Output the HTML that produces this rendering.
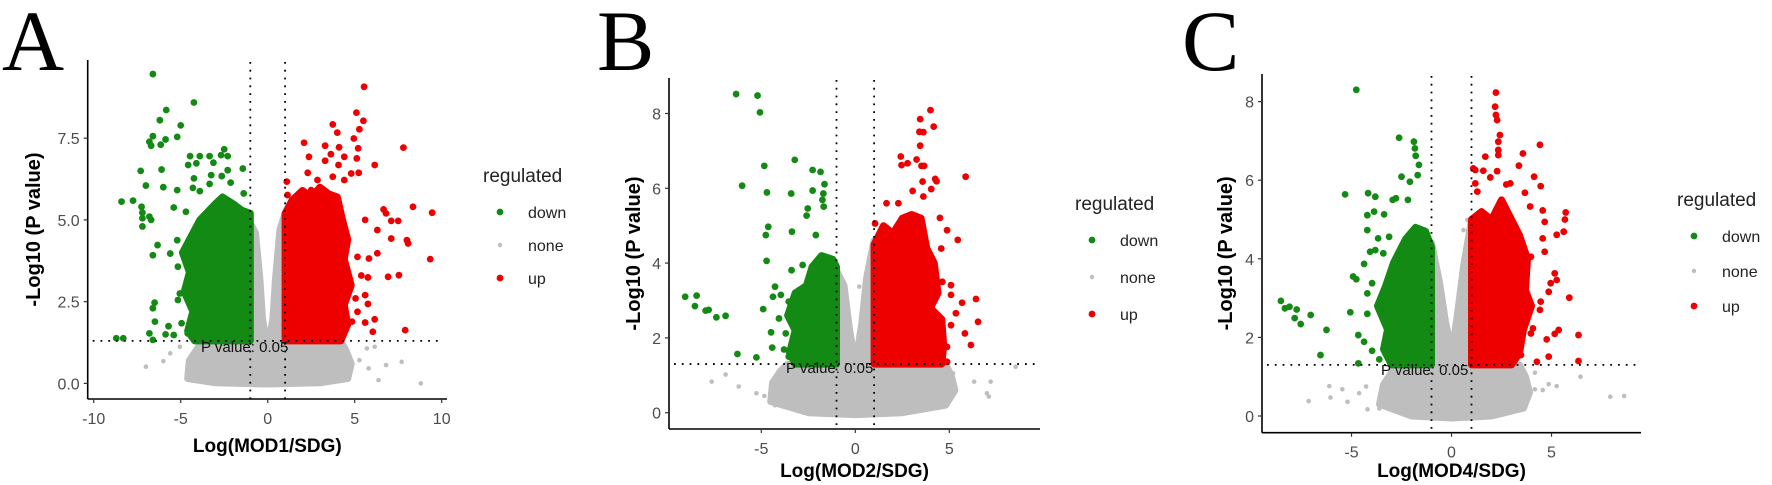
<!DOCTYPE html>
<html><head><meta charset="utf-8"><style>
body{margin:0;background:#fff}
svg{display:block}
text{font-family:"Liberation Sans",sans-serif}
text.serif{font-family:"Liberation Serif",serif}
</style></head><body>
<svg id="fig" width="1772" height="485" viewBox="0 0 1772 485" xmlns="http://www.w3.org/2000/svg"></svg>
<script>
// ---------- DATA (log fold change, -log10 p) ----------
const aGreen=[[-6.6,9.46],[-4.24,8.59],[-5.83,8.36],[-6.2,8.05],[-5.0,7.89],[-6.6,7.56],[-5.2,7.54],[-5.87,7.46],[-6.8,7.39],[-6.7,7.27],[-6.15,7.3],[-2.5,7.16],[-4.46,6.95],[-3.9,6.95],[-3.34,6.95],[-2.68,6.98],[-2.3,6.95],[-4.57,6.68],[-4.1,6.73],[-3.12,6.75],[-1.43,6.57],[-6.1,6.54],[-7.3,6.5],[-4.24,6.27],[-3.25,6.37],[-2.64,6.34],[-2.3,6.52],[-3.34,6.1],[-2.13,6.14],[-7.0,6.05],[-6.0,6.0],[-4.3,5.98],[-3.9,5.88],[-5.2,5.91],[-1.38,5.81],[-8.4,5.56],[-7.74,5.59],[-7.25,5.4],[-5.4,5.38],[-7.2,5.22],[-4.7,5.25],[-7.2,5.05],[-6.8,5.1],[-7.2,4.8],[-6.7,5.0],[-6.33,4.23],[-6.6,3.92],[-5.2,4.38],[-5.6,3.97],[-5.16,3.57],[-5.05,2.75],[-5.16,2.55],[-6.5,2.47],[-6.6,2.3],[-6.48,1.89],[-5.7,1.75],[-6.8,1.53],[-5.87,1.5],[-8.7,1.38],[-8.3,1.38],[-6.6,1.33],[-5.4,1.48],[-4.95,1.84],[-4.6,1.53]];
const aRed=[[5.54,9.07],[5.1,8.28],[5.5,8.03],[3.74,7.92],[4.0,7.67],[5.27,7.77],[4.95,7.49],[7.8,7.21],[2.09,7.36],[3.3,7.27],[4.1,7.22],[5.2,7.19],[2.37,6.93],[3.63,7.01],[4.4,6.93],[5.12,6.88],[6.15,6.68],[3.3,6.81],[4.07,6.68],[2.3,6.44],[4.8,6.42],[5.23,6.44],[2.86,6.22],[3.74,6.32],[4.4,6.22],[1.1,6.17],[1.14,5.76],[2.5,5.91],[8.35,5.4],[9.45,5.22],[6.66,5.32],[6.8,5.2],[7.1,4.97],[7.5,4.97],[5.6,5.0],[6.3,4.69],[7.1,4.43],[8.0,4.38],[8.07,4.28],[6.3,3.98],[9.34,3.8],[5.82,3.82],[5.16,3.87],[6.92,3.26],[7.54,3.31],[5.76,3.24],[5.76,2.43],[5.05,2.6],[6.15,1.96],[5.6,1.86],[6.04,1.58],[7.9,1.63],[4.84,1.89],[5.16,2.19],[5.6,2.7],[5.38,3.3]];
const aNone=[[-7.0,0.51],[-6.0,0.68],[-4.6,0.25],[-3.96,0.12],[8.8,0.0],[6.37,0.1],[7.7,0.66],[6.8,0.56],[5.8,0.46],[5.27,0.71],[5.7,1.07],[6.15,1.12],[4.5,1.02],[-5.05,1.12],[-5.6,0.92]];
const aNoneArea=[[-4.6,0.15],[-4.5,0.7],[-4.0,1.1],[-3.8,1.3],[-1,1.3],[-1,4.9],[-0.7,4.6],[-0.45,3.2],[-0.3,2.0],[-0.15,1.5],[0.15,1.5],[0.3,2.0],[0.45,3.2],[0.7,4.7],[1,5.2],[1,1.3],[4.2,1.3],[4.5,1.0],[4.8,0.6],[4.6,0.15],[3,0.02],[0,-0.02],[-3,0.02]];
const aGreenArea=[[-1,1.3],[-4.2,1.3],[-4.6,1.6],[-4.3,2.2],[-4.8,2.8],[-4.5,3.4],[-4.9,4.0],[-4.4,4.5],[-3.9,5.0],[-3.0,5.5],[-2.6,5.7],[-2.0,5.5],[-1.5,5.3],[-1,5.2]];
const aRedArea=[[1,1.3],[1,5.2],[1.4,5.6],[2.0,5.9],[2.5,5.7],[3.0,6.0],[3.5,5.8],[4.0,5.7],[4.3,5.0],[4.6,4.4],[4.4,3.8],[4.8,3.0],[4.4,2.4],[4.6,1.8],[4.2,1.3]];

const bGreen=[[-6.34,8.52],[-5.2,8.48],[-5.07,8.03],[-3.22,6.76],[-4.84,6.6],[-6.02,6.07],[-4.7,5.89],[-3.41,5.86],[-2.27,6.49],[-1.85,6.44],[-2.27,5.94],[-1.64,6.11],[-1.7,5.86],[-2.53,5.46],[-2.59,5.27],[-1.75,5.69],[-1.68,5.51],[-4.63,4.97],[-4.76,4.75],[-3.37,4.84],[-2.1,4.75],[-4.72,4.06],[-3.39,3.81],[-2.8,3.95],[-9.05,3.1],[-8.44,3.13],[-8.53,2.85],[-7.96,2.73],[-7.8,2.75],[-7.39,2.55],[-6.9,2.59],[-4.9,2.77],[-4.48,2.15],[-4.42,1.74],[-6.27,1.57],[-5.26,1.48],[-4.27,3.37],[-3.96,3.15],[-4.38,3.1],[-3.54,2.97],[-4.06,2.52],[-3.7,2.12],[-3.79,1.69],[-3.12,1.94],[-3.54,1.5],[-2.86,3.19]];
const bRed=[[4.0,8.09],[3.45,7.85],[4.17,7.65],[3.41,7.51],[3.62,7.5],[3.45,7.14],[2.42,6.85],[3.26,6.77],[2.46,6.62],[2.78,6.67],[3.52,6.6],[3.66,6.6],[5.87,6.31],[4.25,6.25],[4.32,6.19],[3.58,6.18],[4.04,5.98],[3.05,5.93],[1.66,5.6],[2.29,5.6],[3.62,5.78],[4.5,5.21],[4.88,4.88],[5.45,4.62],[1.05,5.06],[4.57,4.39],[4.63,3.5],[5.09,3.41],[5.09,3.15],[5.68,2.94],[6.42,3.04],[6.53,2.43],[5.83,2.12],[6.15,1.81],[4.88,1.36],[5.35,2.66],[5.09,2.34],[4.88,1.76],[4.67,1.59]];
const bNone=[[-7.64,0.83],[-6.9,1.02],[-6.2,0.7],[-5.26,0.52],[-4.84,0.45],[-4.27,0.2],[8.53,1.23],[6.32,0.83],[7.2,0.83],[7.1,0.43],[7.0,0.52],[5.2,1.05],[0.21,3.37],[-0.76,3.37]];
const bNoneArea=[[-4.5,0.3],[-4.4,0.8],[-4.0,1.1],[-3.6,1.3],[-1,1.3],[-1,3.8],[-0.6,3.4],[-0.3,2.2],[-0.1,1.6],[0.1,1.6],[0.35,2.4],[0.6,3.6],[1,4.6],[1,1.3],[4.8,1.3],[5.1,1.0],[5.3,0.6],[4.8,0.2],[2.5,0.0],[0,-0.05],[-2.5,0.0]];
const bGreenArea=[[-1,1.3],[-3.2,1.3],[-3.5,1.6],[-3.2,2.2],[-3.6,2.6],[-3.2,3.2],[-2.6,3.4],[-2.3,3.9],[-1.8,4.2],[-1.2,4.1],[-1,3.9]];
const bRedArea=[[1,1.3],[1,4.5],[1.5,5.0],[2.0,4.8],[2.5,5.2],[3.0,5.3],[3.5,5.2],[3.8,4.4],[4.2,4.0],[4.4,3.2],[4.0,2.8],[4.6,2.5],[4.7,1.8],[4.6,1.3]];

const cGreen=[[-4.76,8.3],[-2.62,7.08],[-1.88,6.98],[-1.83,6.81],[-1.79,6.62],[-1.63,6.39],[-2.5,6.09],[-2.08,5.96],[-1.69,6.13],[-5.32,5.64],[-4.17,5.67],[-3.81,5.58],[-4.21,5.11],[-3.87,5.2],[-3.37,5.13],[-2.94,5.5],[-2.78,5.54],[-2.18,5.5],[-4.21,4.73],[-3.67,4.52],[-3.12,4.56],[-3.41,4.14],[-4.07,4.18],[-3.81,4.22],[-4.37,3.87],[-4.92,3.55],[-4.76,3.48],[-8.53,2.93],[-8.33,2.74],[-8.1,2.78],[-7.74,2.71],[-7.84,2.49],[-7.54,2.34],[-7.04,2.57],[-6.25,2.19],[-5.06,2.64],[-4.21,2.6],[-4.66,2.06],[-4.37,1.89],[-6.55,1.55],[-3.97,1.66],[-4.66,1.34],[-3.61,1.44],[-4.21,3.12],[-3.97,3.38]];
const cRed=[[2.22,8.23],[2.18,7.87],[2.22,7.66],[2.28,7.53],[2.42,7.15],[2.34,6.98],[4.42,6.9],[2.34,6.77],[3.57,6.68],[1.69,6.6],[2.34,6.64],[3.37,6.37],[1.09,6.3],[1.19,6.26],[1.59,6.24],[2.28,6.23],[1.94,6.07],[4.13,6.09],[2.74,5.89],[2.94,5.92],[4.46,5.85],[3.67,5.68],[1.19,5.92],[1.29,5.71],[5.71,5.18],[5.67,5.0],[5.61,4.69],[5.26,4.61],[4.56,5.23],[3.93,5.33],[4.66,4.94],[4.56,4.52],[4.66,4.18],[3.97,4.05],[5.16,3.63],[5.26,3.46],[4.96,3.38],[5.89,3.01],[4.46,2.91],[4.86,3.16],[4.42,2.7],[6.35,2.06],[5.36,2.19],[5.16,2.09],[4.76,1.95],[4.07,2.23],[3.97,2.1],[4.86,1.51],[6.35,1.4],[4.27,1.38],[3.47,1.55]];
const cNone=[[-7.14,0.38],[-6.11,0.76],[-6.05,0.47],[-5.46,0.68],[-5.2,0.36],[-4.62,0.58],[-4.2,0.17],[-3.61,0.19],[-4.27,0.75],[6.45,1.0],[7.94,0.49],[8.63,0.51],[4.17,0.68],[4.56,0.66],[4.86,0.81],[5.26,0.76],[4.17,1.1],[3.57,0.2],[0.6,4.73],[0.79,4.99]];
const cNoneArea=[[-3.6,0.3],[-3.4,0.8],[-3.0,1.1],[-2.8,1.3],[-1,1.3],[-1,4.4],[-0.6,3.4],[-0.3,2.4],[-0.1,1.9],[0.1,1.9],[0.3,2.6],[0.6,3.8],[1,5.0],[1,1.3],[3.4,1.3],[3.7,1.0],[3.9,0.6],[3.6,0.2],[2,0.0],[0,-0.05],[-2,0.0]];
const cGreenArea=[[-1,1.3],[-3.0,1.3],[-3.4,1.7],[-3.2,2.2],[-3.7,2.8],[-3.3,3.3],[-2.9,3.9],[-2.3,4.5],[-1.8,4.8],[-1.3,4.7],[-1,4.3]];
const cRedArea=[[1,1.3],[1,5.0],[1.5,5.2],[2.0,5.0],[2.5,5.5],[3.0,5.0],[3.4,4.6],[3.8,4.0],[3.7,3.2],[4.0,2.8],[3.6,2.2],[3.4,1.6],[3.0,1.3]];

const aXTicks=[-10,-5,0,5,10], aXLabels=["-10","-5","0","5","10"];
const aYTicks=[0,2.5,5,7.5], aYLabels=["0.0","2.5","5.0","7.5"];
const bXTicks=[-5,0,5], bXLabels=["-5","0","5"];
const bYTicks=[0,2,4,6,8], bYLabels=["0","2","4","6","8"];
const cXTicks=[-5,0,5], cXLabels=["-5","0","5"];
const cYTicks=[0,2,4,6,8], cYLabels=["0","2","4","6","8"];
const fcCut=1, pCut=1.3;

// ---------- DRAWING ----------
const NS="http://www.w3.org/2000/svg";
const svg=document.getElementById('fig');
const GREEN="#138a13", RED="#ee0000", GREY="#bebebe";
function mk(tag,attrs,parent){const e=document.createElementNS(NS,tag);for(const k in attrs)e.setAttribute(k,attrs[k]);(parent||svg).appendChild(e);return e;}

const panels=[
 {id:'a',letter:'A',lx:2,x0:267.7,xs:17.4,y0:383.4,ys:32.7,ax:87.7,atop:60,abot:399,aright:447,
  xt:aXTicks,xl:aXLabels,yt:aYTicks,yl:aYLabels,xtitle:'Log(MOD1/SDG)',xty:452,ytx:40,lgx:483,lgy:176,lgstep:33,
  green:aGreen,red:aRed,none:aNone,noneA:aNoneArea,greenA:aGreenArea,redA:aRedArea,ptx:201,pty:352},
 {id:'b',letter:'B',lx:597,x0:855.3,xs:18.8,y0:412.7,ys:37.4,ax:669,atop:78,abot:429,aright:1040,
  xt:bXTicks,xl:bXLabels,yt:bYTicks,yl:bYLabels,xtitle:'Log(MOD2/SDG)',xty:477,ytx:640,lgx:1075,lgy:204,lgstep:37,
  green:bGreen,red:bRed,none:bNone,noneA:bNoneArea,greenA:bGreenArea,redA:bRedArea,ptx:786,pty:373},
 {id:'c',letter:'C',lx:1182,x0:1451.5,xs:20.0,y0:416,ys:39.3,ax:1262,atop:74,abot:432.7,aright:1641,
  xt:cXTicks,xl:cXLabels,yt:cYTicks,yl:cYLabels,xtitle:'Log(MOD4/SDG)',xty:477,ytx:1232,lgx:1677,lgy:200,lgstep:35,
  green:cGreen,red:cRed,none:cNone,noneA:cNoneArea,greenA:cGreenArea,redA:cRedArea,ptx:1381,pty:375}
];

panels.forEach(p=>{
  const X=v=>p.x0+v*p.xs, Y=v=>p.y0-v*p.ys;
  const g=mk('g',{});
  
  
  const L=mk('text',{x:p.lx,y:70,'font-size':86,'class':'serif'},g);
  L.textContent=p.letter;
  
  

  const area=(pts,col,name)=>{
    const e=mk('polygon',{points:pts.map(q=>X(q[0])+','+Y(q[1])).join(' '),fill:col,stroke:col,'stroke-width':7,'stroke-linejoin':'round'},g);
    
    
  };
  const dots=(pts,col,r,name)=>{
    pts.forEach(q=>{
      const c=mk('circle',{cx:X(q[0]),cy:Y(q[1]),r:r,fill:col},g);
      
      
    });
  };
  area(p.noneA,GREY,'none-dense-area');
  dots(p.none,GREY,2.3,'none-point');
  area(p.greenA,GREEN,'down-dense-area');
  area(p.redA,RED,'up-dense-area');
  dots(p.green,GREEN,3.4,'down-point');
  dots(p.red,RED,3.4,'up-point');

  [-fcCut,fcCut].forEach(v=>{
    const l=mk('line',{x1:X(v),x2:X(v),y1:p.atop+2,y2:p.abot,stroke:'#000','stroke-width':1.8,'stroke-dasharray':'1.8 6'},g);
    
    
  });
  const h=mk('line',{x1:p.ax+5,x2:p.aright-4,y1:Y(pCut),y2:Y(pCut),stroke:'#000','stroke-width':1.8,'stroke-dasharray':'1.8 6'},g);
  
  
  const pt=mk('text',{x:p.ptx,y:p.pty,'font-size':15,fill:'#111'},g);
  pt.textContent='P value: 0.05';
  
  

  const ya=mk('line',{x1:p.ax,x2:p.ax,y1:p.atop,y2:p.abot,stroke:'#000','stroke-width':1.6},g);
  
  
  const xa=mk('line',{x1:p.ax,x2:p.aright,y1:p.abot,y2:p.abot,stroke:'#000','stroke-width':1.6},g);
  
  
  p.xt.forEach((v,i)=>{
    mk('line',{x1:X(v),x2:X(v),y1:p.abot,y2:p.abot+4,stroke:'#333','stroke-width':1.2},g);
    const t=mk('text',{x:X(v),y:p.abot+25,'font-size':16,fill:'#4d4d4d','text-anchor':'middle'},g);
    t.textContent=p.xl[i];
    
    
  });
  p.yt.forEach((v,i)=>{
    mk('line',{x1:p.ax-4,x2:p.ax,y1:Y(v),y2:Y(v),stroke:'#333','stroke-width':1.2},g);
    const t=mk('text',{x:p.ax-8,y:Y(v)+6,'font-size':16,fill:'#4d4d4d','text-anchor':'end'},g);
    t.textContent=p.yl[i];
    
    
  });
  const xt=mk('text',{x:(p.ax+p.aright)/2,y:p.xty,'font-size':19,'font-weight':'bold','text-anchor':'middle'},g);
  xt.textContent=p.xtitle;
  
  
  const cy=(p.atop+p.abot)/2;
  const yt=mk('text',{x:p.ytx,y:cy,'font-size':20,'font-weight':'bold','text-anchor':'middle',transform:`rotate(-90 ${p.ytx} ${cy})`},g);
  yt.textContent='-Log10 (P value)';
  
  

  const lt=mk('text',{x:p.lgx,y:p.lgy+6,'font-size':19,fill:'#222'},g);
  lt.textContent='regulated';
  
  
  [['down',GREEN,3.4],['none',GREY,2.2],['up',RED,3.4]].forEach((e,i)=>{
    const yy=p.lgy+36+i*p.lgstep;
    const c=mk('circle',{cx:p.lgx+17,cy:yy,r:e[2],fill:e[1]},g);
    
    
    const t=mk('text',{x:p.lgx+45,y:yy+6,'font-size':16,fill:'#222'},g);
    t.textContent=e[0];
    
    
  });
});
</script>
</body></html>
